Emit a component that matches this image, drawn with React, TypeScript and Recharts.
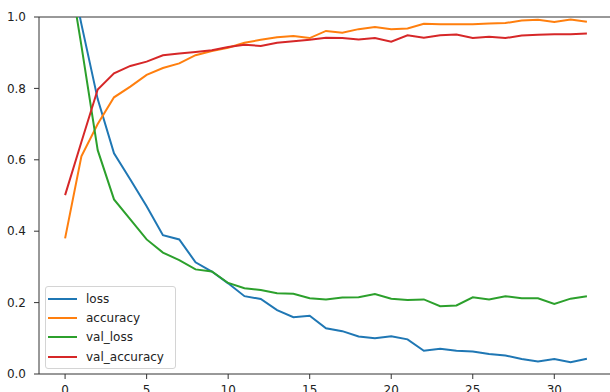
import React from 'react';
import { LineChart, Line, XAxis, YAxis, Legend, ReferenceLine } from 'recharts';

const epochs = Array.from({ length: 33 }, (_, i) => i);
const loss = [1.20, 0.98, 0.77, 0.618, 0.545, 0.47, 0.389, 0.377, 0.313, 0.287, 0.254, 0.218, 0.210, 0.179, 0.159, 0.163, 0.128, 0.120, 0.105, 0.100, 0.106, 0.097, 0.065, 0.071, 0.065, 0.063, 0.056, 0.052, 0.042, 0.035, 0.042, 0.033, 0.043];
const accuracy = [0.38, 0.61, 0.70, 0.775, 0.805, 0.838, 0.857, 0.870, 0.893, 0.905, 0.914, 0.928, 0.936, 0.943, 0.947, 0.941, 0.961, 0.956, 0.966, 0.972, 0.966, 0.968, 0.981, 0.980, 0.980, 0.980, 0.982, 0.983, 0.990, 0.992, 0.986, 0.993, 0.987];
const valLoss = [1.20, 0.92, 0.627, 0.489, 0.433, 0.377, 0.340, 0.319, 0.293, 0.287, 0.255, 0.240, 0.235, 0.226, 0.225, 0.212, 0.209, 0.214, 0.215, 0.224, 0.211, 0.207, 0.209, 0.190, 0.192, 0.215, 0.209, 0.218, 0.212, 0.212, 0.196, 0.211, 0.218];
const valAccuracy = [0.501, 0.65, 0.797, 0.842, 0.863, 0.875, 0.893, 0.898, 0.902, 0.907, 0.916, 0.922, 0.919, 0.928, 0.932, 0.936, 0.942, 0.941, 0.937, 0.941, 0.931, 0.949, 0.942, 0.949, 0.951, 0.941, 0.945, 0.941, 0.948, 0.950, 0.952, 0.952, 0.954];
const xTicks = [0, 5, 10, 15, 20, 25, 30];
const yTicks = [0, 0.2, 0.4, 0.6, 0.8, 1.0];

const series = [
  { key: 'loss', color: '#1f77b4' },
  { key: 'accuracy', color: '#ff7f0e' },
  { key: 'val_loss', color: '#2ca02c' },
  { key: 'val_accuracy', color: '#d62728' },
];

const data = epochs.map((e, i) => ({
  epoch: e,
  loss: loss[i],
  accuracy: accuracy[i],
  val_loss: valLoss[i],
  val_accuracy: valAccuracy[i],
}));

const FONT = '"DejaVu Sans", sans-serif';

const LegendBox = () => (
  <div
    style={{
      boxSizing: 'border-box',
      width: 131,
      height: 83,
      border: '1px solid #d4d4d4',
      borderRadius: 3,
      background: 'rgba(255,255,255,0.85)',
      paddingTop: 2,
      paddingLeft: 2,
      fontFamily: FONT,
      fontSize: 12,
      color: '#222',
    }}
  >
    {series.map((s) => (
      <div key={s.key} style={{ height: 19.33, display: 'flex', alignItems: 'center' }}>
        <svg width={29} height={4} style={{ display: 'block' }}>
          <line x1={0} y1={2} x2={29} y2={2} stroke={s.color} strokeWidth={2} />
        </svg>
        <span style={{ marginLeft: 9, lineHeight: '14px' }}>{s.key}</span>
      </div>
    ))}
  </div>
);

export default function App() {
  return (
    <div style={{ position: 'absolute', left: 0, top: 0, width: 610, height: 392, overflow: 'hidden', background: '#fff' }}>
      <LineChart width={620} height={392} data={data} margin={{ top: 17, right: 7, left: 0, bottom: 0 }}>
        <XAxis
          dataKey="epoch"
          type="number"
          domain={[-1.6, 33.6]}
          ticks={xTicks}
          allowDataOverflow
          height={18}
          tickSize={5}
          tickMargin={6}
          stroke="#333"
          tick={{ fill: '#222', fontSize: 12, fontFamily: FONT }}
        />
        <YAxis
          type="number"
          domain={[0, 1]}
          ticks={yTicks}
          allowDataOverflow
          width={39}
          tickSize={5}
          tickMargin={8}
          stroke="#333"
          tickFormatter={(v: number) => v.toFixed(1)}
          tick={{ fill: '#222', fontSize: 12, fontFamily: FONT }}
        />
        <ReferenceLine y={1} stroke="#333" strokeWidth={1} />
        {series.map((s) => (
          <Line
            key={s.key}
            type="linear"
            dataKey={s.key}
            stroke={s.color}
            strokeWidth={2}
            dot={false}
            activeDot={false}
            isAnimationActive={false}
          />
        ))}
        <Legend
          layout="vertical"
          align="center"
          verticalAlign="middle"
          content={<LegendBox />}
          wrapperStyle={{ left: 45, top: 286, width: 131, height: 83 }}
        />
      </LineChart>
    </div>
  );
}
